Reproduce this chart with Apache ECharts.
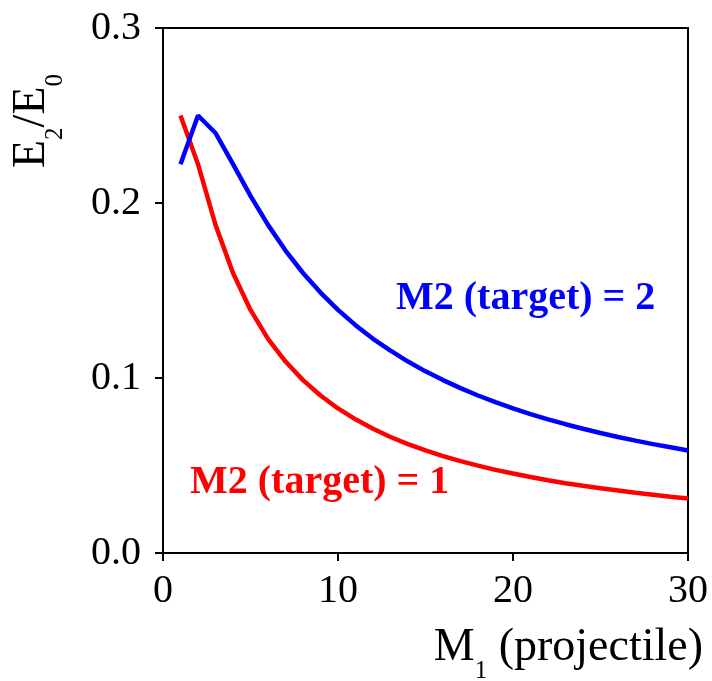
<!DOCTYPE html>
<html>
<head>
<meta charset="utf-8">
<script src="https://cdn.jsdelivr.net/npm/echarts@6/dist/echarts.min.js"></script>
<style>html,body{margin:0;padding:0;background:#fff;}#c{width:712px;height:681px;}</style>
</head>
<body>
<div id="c"></div>
<script>
var m1 = [1,2,3,4,5,6,7,8,9,10,11,12,13,14,15,16,17,18,19,20,21,22,23,24,25,26,27,28,29,30];
var target1 = [0.2500,0.2222,0.1875,0.1600,0.1389,0.1224,0.1094,0.0988,0.0900,0.0826,0.0764,0.0710,0.0663,0.0622,0.0586,0.0554,0.0525,0.0499,0.0475,0.0454,0.0434,0.0416,0.0399,0.0384,0.0370,0.0357,0.0344,0.0333,0.0322,0.0312];
var target2 = [0.2222,0.2500,0.2400,0.2222,0.2041,0.1875,0.1728,0.1600,0.1488,0.1389,0.1302,0.1224,0.1156,0.1094,0.1038,0.0988,0.0942,0.0900,0.0862,0.0826,0.0794,0.0764,0.0736,0.0710,0.0686,0.0663,0.0642,0.0622,0.0604,0.0586];
var xTicks = [0,10,20,30];
var yTicks = ['0.0','0.1','0.2','0.3'];
var label1 = 'M2 (target) = 1';
var label2 = 'M2 (target) = 2';

var FONT = 'Liberation Serif';
function pairs(xs, ys){ return xs.map(function(x,i){ return [x, ys[i]]; }); }

var chart = echarts.init(document.getElementById('c'), null, {renderer:'canvas'});
chart.setOption({
  animation: false,
  backgroundColor: '#fff',
  grid: {left:163, right:24, top:28, bottom:128, show:true, borderColor:'#000', borderWidth:2, backgroundColor:'transparent'},
  xAxis: {
    type:'value', min:xTicks[0], max:xTicks[xTicks.length-1], interval:10,
    axisLine:{show:true, onZero:false, lineStyle:{color:'#000', width:2}},
    axisTick:{show:true, inside:false, length:8, lineStyle:{color:'#000', width:2}},
    axisLabel:{fontFamily:FONT, fontSize:40, color:'#000', margin:18},
    splitLine:{show:false}
  },
  yAxis: {
    type:'value', min:0, max:0.3, interval:0.1,
    axisLine:{show:true, onZero:false, lineStyle:{color:'#000', width:2}},
    axisTick:{show:true, inside:false, length:8, lineStyle:{color:'#000', width:2}},
    axisLabel:{fontFamily:FONT, fontSize:40, color:'#000', margin:22,
      formatter:function(v){ var i = Math.round(v*10); return yTicks[i]; }},
    splitLine:{show:false}
  },
  series: [
    {type:'line', data:pairs(m1, target1), symbol:'none', smooth:false, lineStyle:{color:'#ff0000', width:4.5}, z:3},
    {type:'line', data:pairs(m1, target2), symbol:'none', smooth:false, lineStyle:{color:'#0000ff', width:4.5}, z:4}
  ],
  graphic: [
    {type:'text', left:396, top:279, style:{text:label2, fontFamily:FONT, fontSize:40, fontWeight:'bold', fill:'#0000ff'}},
    {type:'text', left:190, top:463, style:{text:label1, fontFamily:FONT, fontSize:40, fontWeight:'bold', fill:'#ff0000'}},
    {type:'text', x:703, y:648, style:{
      text:'{a|M}{s|1}{a| (projectile)}', align:'right', verticalAlign:'middle',
      rich:{a:{fontFamily:FONT, fontSize:46, fill:'#000'}, s:{fontFamily:FONT, fontSize:25, fill:'#000', padding:[46,0,0,0]}}
    }},
    {type:'text', x:32, y:121, rotation:Math.PI/2, style:{
      text:'{a|E}{s|2}{a|/E}{s|0}', align:'center', verticalAlign:'middle',
      rich:{a:{fontFamily:FONT, fontSize:46, fill:'#000'}, s:{fontFamily:FONT, fontSize:25, fill:'#000', padding:[46,0,0,0]}}
    }}
  ]
});
</script>
</body>
</html>
